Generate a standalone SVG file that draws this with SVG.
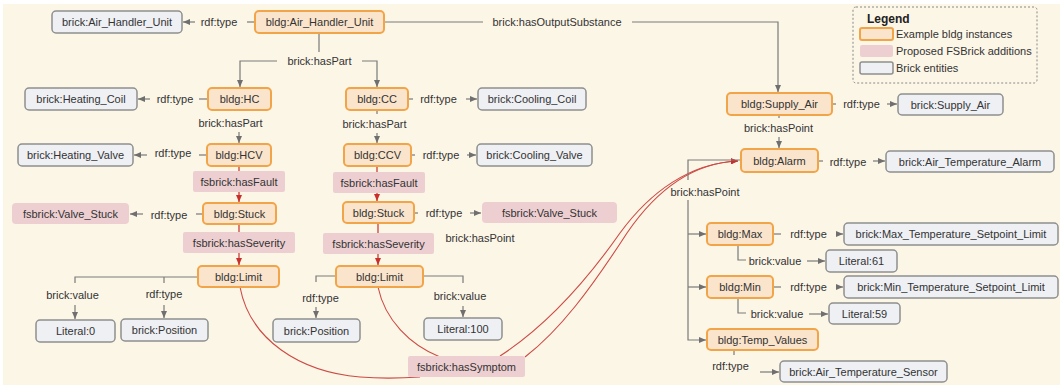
<svg xmlns="http://www.w3.org/2000/svg" width="1062" height="387" viewBox="0 0 1062 387">
  <style>
    text { font-family: "Liberation Sans", Arial, sans-serif; font-size: 11px; fill: #333; text-anchor: middle; }
    .o { fill: #fae4cb; stroke: #f2a548; stroke-width: 2; }
    .g { fill: #eef0f3; stroke: #8f8f8f; stroke-width: 1.5; }
    .p { fill: #edcfd1; }
    .e { fill: none; stroke: #7a7a7a; stroke-width: 1.2; }
    .r { fill: none; stroke: #c9302c; stroke-width: 1.2; }
    .rc { fill: none; stroke: #cd4a44; stroke-width: 1.1; }
    .leg { font-weight: bold; font-size: 12px; text-anchor: start; fill: #222; }
    .lt { text-anchor: start; }
  </style>
  <defs>
    <marker id="ag" markerUnits="userSpaceOnUse" markerWidth="7" markerHeight="6" refX="7" refY="3" orient="auto">
      <path d="M0,0 L7,3 L0,6 z" fill="#6f6f6f"/>
    </marker>
    <marker id="ar" markerUnits="userSpaceOnUse" markerWidth="7" markerHeight="6" refX="7" refY="3" orient="auto">
      <path d="M0,0 L7,3 L0,6 z" fill="#c9302c"/>
    </marker>
  </defs>

  <rect x="0" y="0" width="1062" height="387" fill="#ffffff"/>
  <rect x="3" y="4" width="1057" height="381" fill="#fcf6e7"/>

  <!-- connectors -->
  <g id="connectors">
    <!-- symptom curves -->
    <path class="rc" d="M240,287 C250,340 300,372 360,377 C385,379 405,378 420,377"/>
    <path class="rc" d="M378,287 C385,320 410,345 440,357"/>
    <path class="rc" d="M500,356 C540,330 580,290 620,233 C650,192 690,163 738,161" marker-end="url(#ar)"/>
    <path class="rc" d="M525,357 C560,330 590,290 627,233 C655,192 690,163 738,161" marker-end="url(#ar)"/>

    <!-- AHU -->
    <path class="e" d="M255,22 H247"/>
    <path class="e" d="M195,22 H183" marker-end="url(#ag)"/>
    <text x="219" y="26">rdf:type</text>
    <path class="e" d="M384,22 H483"/>
    <text x="557" y="26">brick:hasOutputSubstance</text>
    <path class="e" d="M632,22 H778 V92" marker-end="url(#ag)"/>
    <path class="e" d="M319,33 V52"/>
    <text x="319.5" y="65">brick:hasPart</text>
    <path class="e" d="M277,61 H240 V87" marker-end="url(#ag)"/>
    <path class="e" d="M362,61 H377 V87" marker-end="url(#ag)"/>

    <!-- HC column -->
    <path class="e" d="M207,99 H199"/>
    <path class="e" d="M150,99 H138" marker-end="url(#ag)"/>
    <text x="175" y="103">rdf:type</text>
    <text x="230.5" y="127">brick:hasPart</text>
    <path class="e" d="M239,132 V143" marker-end="url(#ag)"/>
    <path class="e" d="M206,155 H199"/>
    <path class="e" d="M147,155 H134" marker-end="url(#ag)"/>
    <text x="173" y="157">rdf:type</text>
    <path class="r" d="M239,166 V202" marker-end="url(#ar)"/>
    <path class="e" d="M202,214 H196"/>
    <path class="e" d="M143,214 H130" marker-end="url(#ag)"/>
    <text x="169" y="219">rdf:type</text>
    <path class="r" d="M239,224 V265" marker-end="url(#ar)"/>
    <path class="e" d="M198,277 H75 V283"/>
    <path class="e" d="M164,277 V283"/>
    <text x="72.5" y="299">brick:value</text>
    <text x="164" y="298">rdf:type</text>
    <path class="e" d="M75,305 V319" marker-end="url(#ag)"/>
    <path class="e" d="M164,305 V318" marker-end="url(#ag)"/>

    <!-- CC column -->
    <path class="e" d="M408,99 H413"/>
    <path class="e" d="M466,99 H477" marker-end="url(#ag)"/>
    <text x="438.5" y="103">rdf:type</text>
    <path class="e" d="M377,110 V114"/>
    <text x="374.5" y="128">brick:hasPart</text>
    <path class="e" d="M377,133 V143" marker-end="url(#ag)"/>
    <path class="e" d="M411,155 H415"/>
    <path class="e" d="M467,155 H476" marker-end="url(#ag)"/>
    <text x="441" y="159">rdf:type</text>
    <path class="r" d="M377,166 V201" marker-end="url(#ar)"/>
    <path class="e" d="M414,213 H418"/>
    <path class="e" d="M470,213 H481" marker-end="url(#ag)"/>
    <text x="444" y="217">rdf:type</text>
    <path class="r" d="M378,223 V265" marker-end="url(#ar)"/>
    <path class="e" d="M336,276 H316 V282"/>
    <text x="320.5" y="302">rdf:type</text>
    <path class="e" d="M316,307 V318" marker-end="url(#ag)"/>
    <path class="e" d="M423,276 H463 V283"/>
    <text x="460" y="300">brick:value</text>
    <path class="e" d="M463,306 V317" marker-end="url(#ag)"/>
    <text x="480" y="242">brick:hasPoint</text>

    <!-- supply air / alarm -->
    <path class="e" d="M779,115 V118"/>
    <text x="778.5" y="132">brick:hasPoint</text>
    <path class="e" d="M779,137 V148" marker-end="url(#ag)"/>
    <path class="e" d="M832,104 H836"/>
    <text x="861.5" y="108">rdf:type</text>
    <path class="e" d="M887,104 H897" marker-end="url(#ag)"/>
    <path class="e" d="M818,161 H823"/>
    <text x="848" y="166">rdf:type</text>
    <path class="e" d="M873,161 H885" marker-end="url(#ag)"/>
    <path class="e" d="M741,160 H688 V180"/>
    <text x="705" y="196">brick:hasPoint</text>
    <path class="e" d="M688,200 V340 H706" marker-end="url(#ag)"/>
    <path class="e" d="M688,234 H706" marker-end="url(#ag)"/>
    <path class="e" d="M688,287 H706" marker-end="url(#ag)"/>

    <!-- max / min / temp values -->
    <path class="e" d="M773,234 H781"/>
    <text x="808.5" y="238">rdf:type</text>
    <path class="e" d="M836,234 H843" marker-end="url(#ag)"/>
    <path class="e" d="M738,245 V260 H746"/>
    <text x="775" y="265">brick:value</text>
    <path class="e" d="M807,261 H825" marker-end="url(#ag)"/>
    <path class="e" d="M773,287 H781"/>
    <text x="808.5" y="291">rdf:type</text>
    <path class="e" d="M836,287 H843" marker-end="url(#ag)"/>
    <path class="e" d="M738,298 V313 H746"/>
    <text x="777" y="318">brick:value</text>
    <path class="e" d="M809,314 H828" marker-end="url(#ag)"/>
    <path class="e" d="M734,350 V355"/>
    <text x="730.5" y="370">rdf:type</text>
    <path class="e" d="M760,372 H779" marker-end="url(#ag)"/>
  </g>

  <!-- edge labels drawn as FSBrick relation boxes -->
  <g id="hasFault1"><rect class="p" x="193" y="171" width="92" height="21" rx="2"/><text x="239" y="185.5">fsbrick:hasFault</text></g>
  <g id="hasSeverity1"><rect class="p" x="183" y="232" width="112" height="21" rx="2"/><text x="239" y="246.5">fsbrick:hasSeverity</text></g>
  <g id="hasFault2"><rect class="p" x="333" y="172" width="92" height="21" rx="2"/><text x="379" y="186.5">fsbrick:hasFault</text></g>
  <g id="hasSeverity2"><rect class="p" x="323" y="233" width="111" height="21" rx="2"/><text x="378.5" y="247.5">fsbrick:hasSeverity</text></g>
  <g id="hasSymptom"><rect class="p" x="408" y="356" width="117" height="21" rx="2"/><text x="466.5" y="370.5">fsbrick:hasSymptom</text></g>

  <!-- nodes -->
  <g id="brick_ahu"><rect class="g" x="52" y="11" width="130" height="22" rx="4"/><text x="117" y="26">brick:Air_Handler_Unit</text></g>
  <g id="bldg_ahu"><rect class="o" x="255" y="11" width="129" height="22" rx="4"/><text x="319.5" y="26">bldg:Air_Handler_Unit</text></g>
  <g id="bldg_hc"><rect class="o" x="208" y="88" width="63" height="22" rx="4"/><text x="239.5" y="103">bldg:HC</text></g>
  <g id="brick_heating_coil"><rect class="g" x="25" y="88" width="112" height="22" rx="4"/><text x="81" y="103">brick:Heating_Coil</text></g>
  <g id="bldg_hcv"><rect class="o" x="207" y="144" width="64" height="22" rx="4"/><text x="239" y="159">bldg:HCV</text></g>
  <g id="brick_heating_valve"><rect class="g" x="18" y="144" width="115" height="22" rx="4"/><text x="75.5" y="159">brick:Heating_Valve</text></g>
  <g id="bldg_stuck1"><rect class="o" x="203" y="203" width="73" height="21" rx="4"/><text x="239.5" y="217.5">bldg:Stuck</text></g>
  <g id="fs_valve_stuck1"><rect class="p" x="12" y="203" width="117" height="21" rx="4"/><text x="70.5" y="217.5">fsbrick:Valve_Stuck</text></g>
  <g id="bldg_limit1"><rect class="o" x="198" y="266" width="81" height="21" rx="4"/><text x="238.5" y="280.5">bldg:Limit</text></g>
  <g id="literal_0"><rect class="g" x="36" y="320" width="79" height="22" rx="4"/><text x="75.5" y="335">Literal:0</text></g>
  <g id="brick_position1"><rect class="g" x="121" y="319" width="87" height="22" rx="4"/><text x="164.5" y="334">brick:Position</text></g>

  <g id="bldg_cc"><rect class="o" x="346" y="88" width="62" height="22" rx="4"/><text x="377" y="103">bldg:CC</text></g>
  <g id="brick_cooling_coil"><rect class="g" x="478" y="88" width="108" height="22" rx="4"/><text x="532" y="103">brick:Cooling_Coil</text></g>
  <g id="bldg_ccv"><rect class="o" x="344" y="144" width="67" height="22" rx="4"/><text x="377.5" y="159">bldg:CCV</text></g>
  <g id="brick_cooling_valve"><rect class="g" x="477" y="144" width="115" height="22" rx="4"/><text x="534.5" y="159">brick:Cooling_Valve</text></g>
  <g id="bldg_stuck2"><rect class="o" x="343" y="202" width="71" height="21" rx="4"/><text x="378.5" y="216.5">bldg:Stuck</text></g>
  <g id="fs_valve_stuck2"><rect class="p" x="482" y="202" width="135" height="21" rx="4"/><text x="549.5" y="216.5">fsbrick:Valve_Stuck</text></g>
  <g id="bldg_limit2"><rect class="o" x="336" y="266" width="87" height="21" rx="4"/><text x="379.5" y="280.5">bldg:Limit</text></g>
  <g id="brick_position2"><rect class="g" x="273" y="319" width="87" height="23" rx="4"/><text x="316.5" y="334.5">brick:Position</text></g>
  <g id="literal_100"><rect class="g" x="424" y="318" width="78" height="22" rx="4"/><text x="463" y="333">Literal:100</text></g>

  <g id="bldg_supply_air"><rect class="o" x="727" y="93" width="105" height="22" rx="4"/><text x="779.5" y="108">bldg:Supply_Air</text></g>
  <g id="brick_supply_air"><rect class="g" x="898" y="94" width="105" height="21" rx="4"/><text x="950.5" y="108.5">brick:Supply_Air</text></g>
  <g id="bldg_alarm"><rect class="o" x="741" y="149" width="77" height="23" rx="4"/><text x="779.5" y="164.5">bldg:Alarm</text></g>
  <g id="brick_air_temp_alarm"><rect class="g" x="886" y="151" width="168" height="21" rx="4"/><text x="970" y="165.5">brick:Air_Temperature_Alarm</text></g>
  <g id="bldg_max"><rect class="o" x="707" y="223" width="66" height="22" rx="4"/><text x="740" y="238">bldg:Max</text></g>
  <g id="brick_max_limit"><rect class="g" x="844" y="223" width="214" height="22" rx="4"/><text x="951" y="238">brick:Max_Temperature_Setpoint_Limit</text></g>
  <g id="literal_61"><rect class="g" x="826" y="250" width="71" height="22" rx="4"/><text x="861.5" y="265">Literal:61</text></g>
  <g id="bldg_min"><rect class="o" x="707" y="276" width="66" height="22" rx="4"/><text x="740" y="291">bldg:Min</text></g>
  <g id="brick_min_limit"><rect class="g" x="844" y="276" width="214" height="22" rx="4"/><text x="951" y="291">brick:Min_Temperature_Setpoint_Limit</text></g>
  <g id="literal_59"><rect class="g" x="829" y="303" width="71" height="21" rx="4"/><text x="864.5" y="317.5">Literal:59</text></g>
  <g id="bldg_temp_values"><rect class="o" x="707" y="329" width="111" height="21" rx="4"/><text x="762.5" y="343.5">bldg:Temp_Values</text></g>
  <g id="brick_air_temp_sensor"><rect class="g" x="780" y="361" width="167" height="21" rx="4"/><text x="863.5" y="375.5">brick:Air_Temperature_Sensor</text></g>

  <!-- legend -->
  <g id="legend">
    <rect x="853" y="7" width="184" height="76" rx="3" fill="none" stroke="#888" stroke-width="1" stroke-dasharray="2,2"/>
    <text class="leg" x="867" y="23">Legend</text>
    <rect class="o" x="860" y="28" width="33" height="12" rx="2" stroke-width="1.5"/>
    <text class="lt" x="896" y="38">Example bldg instances</text>
    <rect class="p" x="860" y="45" width="33" height="12" rx="2"/>
    <text class="lt" x="896" y="55">Proposed FSBrick additions</text>
    <rect class="g" x="860" y="62" width="33" height="12" rx="2"/>
    <text class="lt" x="896" y="72">Brick entities</text>
  </g>
</svg>
